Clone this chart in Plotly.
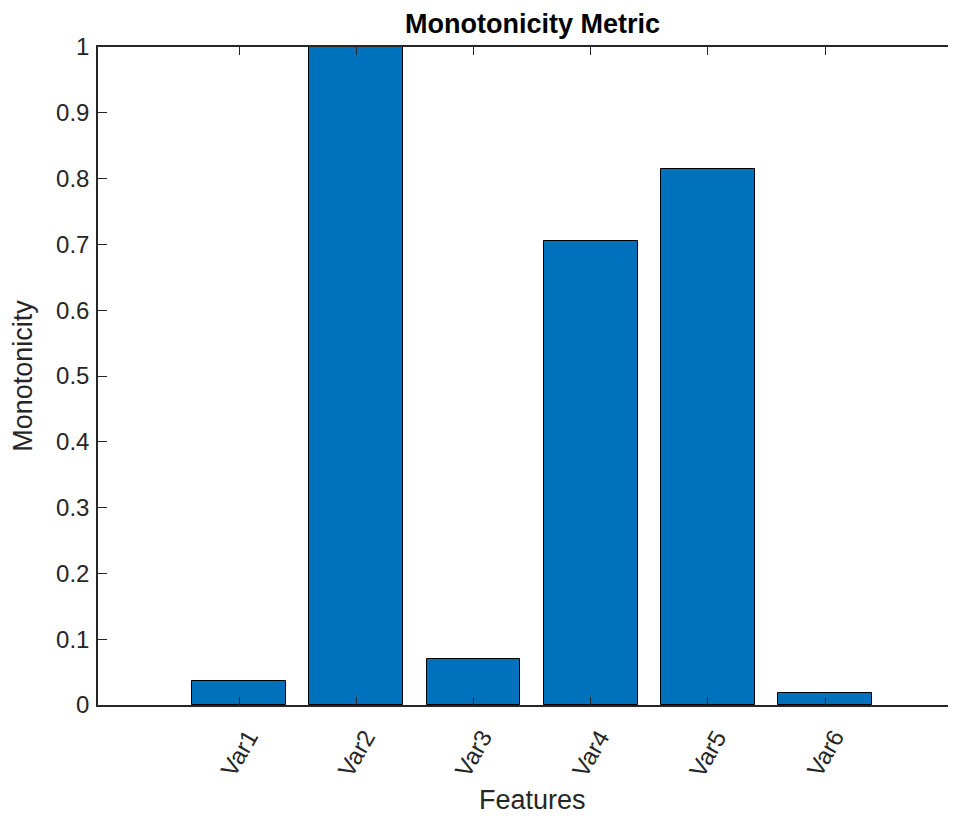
import plotly.graph_objects as go

features = ["Var1", "Var2", "Var3", "Var4", "Var5", "Var6"]
positions = [1, 2, 3, 4, 5, 6]
monotonicity = [0.036, 1.0, 0.070, 0.705, 0.815, 0.018]
y_ticks = [0, 0.1, 0.2, 0.3, 0.4, 0.5, 0.6, 0.7, 0.8, 0.9, 1]
y_tick_text = ["0", "0.1", "0.2", "0.3", "0.4", "0.5", "0.6", "0.7", "0.8", "0.9", "1"]

axis_col = "#262626"
font_family = "Liberation Sans, Arial, sans-serif"

fig = go.Figure()
fig.add_trace(go.Bar(
    x=positions, y=monotonicity, width=0.8,
    marker=dict(color="#0072BD", line=dict(color="black", width=1)),
    showlegend=False,
))

annotations = []
for p, name in zip(positions, features):
    annotations.append(dict(
        x=p, xref="x", y=0, yref="y", text=name, textangle=-60,
        showarrow=False, xanchor="center", yanchor="middle", yshift=-48.5,
        font=dict(size=24, color=axis_col, family=font_family),
    ))
annotations.append(dict(
    x=3.5, xref="x", y=0, yref="paper", text="Features", showarrow=False,
    xanchor="center", yanchor="bottom", yshift=-112,
    font=dict(size=27, color=axis_col, family=font_family),
))
annotations.append(dict(
    x=3.5, xref="x", y=1, yref="paper", text="<b>Monotonicity Metric</b>", showarrow=False,
    xanchor="center", yanchor="bottom", yshift=6,
    font=dict(size=27, color="black", family=font_family),
))

fig.update_layout(
    width=940, height=812,
    margin=dict(l=90, r=0, t=39, b=114.5),
    plot_bgcolor="white", paper_bgcolor="white",
    font=dict(family=font_family, color=axis_col, size=24),
    bargap=0,
    annotations=annotations,
)
fig.update_xaxes(
    range=[-0.203, 7.049], tickmode="array", tickvals=positions, ticktext=[""] * 6,
    ticks="inside", ticklen=8, tickwidth=1.3, tickcolor=axis_col,
    showline=True, linecolor=axis_col, linewidth=1.5, mirror="ticks",
    showgrid=False, zeroline=False,
)
fig.update_yaxes(
    range=[0, 1], tickmode="array", tickvals=y_ticks, ticktext=y_tick_text,
    ticks="inside", ticklen=9, tickwidth=1.3, tickcolor=axis_col,
    showline=True, linecolor=axis_col, linewidth=1.5, mirror=False,
    showgrid=False, zeroline=False, ticklabelstandoff=2,
    title=dict(text="Monotonicity", font=dict(size=27, color=axis_col), standoff=16),
    tickfont=dict(size=24, color=axis_col),
)

fig.write_html("out.html")
